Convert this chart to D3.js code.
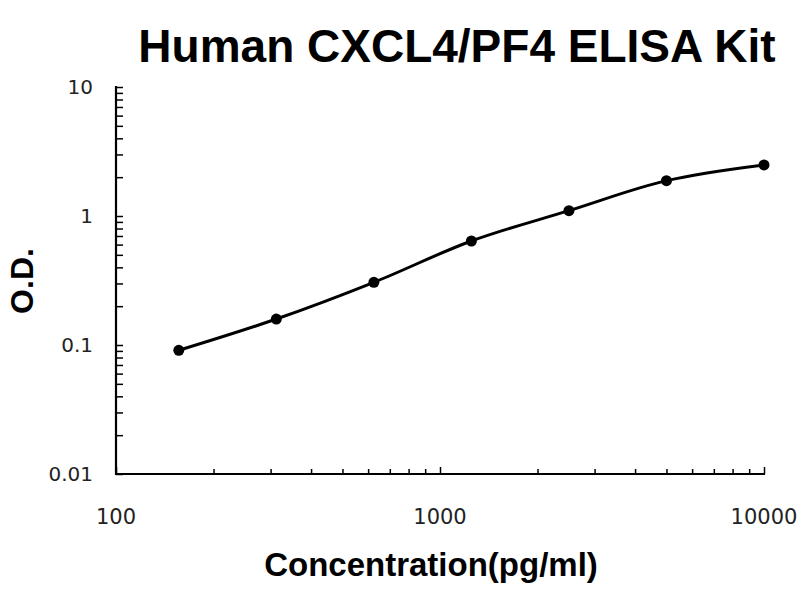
<!DOCTYPE html>
<html>
<head>
<meta charset="utf-8">
<script src="https://cdn.jsdelivr.net/npm/d3@7"></script>
<style>
  html, body { margin: 0; padding: 0; background: #fff; }
  svg { display: block; }
</style>
</head>
<body>
<svg id="chart" width="800" height="600"></svg>
<script>
// Data
const concentrations = [156.25, 312.5, 625, 1250, 2500, 5000, 10000];
const odValues = [0.091, 0.159, 0.306, 0.64, 1.10, 1.88, 2.49];
const xTickValues = [100, 1000, 10000];
const xTickLabels = ["100", "1000", "10000"];
const yTickValues = [0.01, 0.1, 1, 10];
const yTickLabels = ["0.01", "0.1", "1", "10"];
const titleText = "Human CXCL4/PF4 ELISA Kit";
const xLabelText = "Concentration(pg/ml)";
const yLabelText = "O.D.";

(function () {
const svg = d3.select("#chart");
svg.append("rect").attr("width", 800).attr("height", 600).attr("fill", "#fff");

const pLeft = 116, pRight = 764, pTop = 87, pBottom = 474;
const x = d3.scaleLog().domain([100, 10000]).range([pLeft, pRight]);
const y = d3.scaleLog().domain([0.01, 10]).range([pBottom, pTop]);

// minor tick values
const xMinor = [];
for (let d = 100; d < 10000; d *= 10) for (let k = 2; k <= 9; k++) xMinor.push(d * k);
const yMinor = [];
for (let d = 0.01; d < 10; d *= 10) for (let k = 2; k <= 9; k++) yMinor.push(+(d * k).toPrecision(3));

// X axis
const xAxisG = svg.append("g").attr("transform", `translate(0,${pBottom})`);
xAxisG.append("g").call(d3.axisTop(x).tickValues(xMinor).tickSize(5).tickFormat(""))
  .call(g => g.select(".domain").remove());
xAxisG.append("g").call(d3.axisTop(x).tickValues(xTickValues).tickSize(7).tickFormat(""))
  .call(g => g.select(".domain").remove());
xAxisG.selectAll(".tick line").attr("stroke", "#000").attr("stroke-width", 1.5);
xAxisG.append("line").attr("x1", pLeft - 1).attr("x2", pRight + 1).attr("y1", 0).attr("y2", 0)
  .attr("stroke", "#000").attr("stroke-width", 2.2);
svg.append("g").selectAll("text").data(xTickValues).join("text")
  .attr("x", d => x(d)).attr("y", 524)
  .attr("text-anchor", "middle")
  .attr("font-family", "DejaVu Sans, sans-serif").attr("font-size", 21).attr("fill", "#222")
  .text((d, i) => xTickLabels[i]);

// Y axis
const yAxisG = svg.append("g").attr("transform", `translate(${pLeft},0)`);
yAxisG.append("g").call(d3.axisRight(y).tickValues(yMinor.concat(yTickValues)).tickSize(7).tickFormat(""))
  .call(g => g.select(".domain").remove());
yAxisG.selectAll(".tick line").attr("stroke", "#000").attr("stroke-width", 1.5);
yAxisG.append("line").attr("x1", 0).attr("x2", 0).attr("y1", pTop - 1).attr("y2", pBottom + 1)
  .attr("stroke", "#000").attr("stroke-width", 2.2);
svg.append("g").selectAll("text").data(yTickValues).join("text")
  .attr("x", 93).attr("y", d => y(d) + 7)
  .attr("text-anchor", "end")
  .attr("font-family", "DejaVu Sans, sans-serif").attr("font-size", 20).attr("fill", "#222")
  .text((d, i) => yTickLabels[i]);

// Curve
const pts = concentrations.map((c, i) => [c, odValues[i]]);
const line = d3.line().x(d => x(d[0])).y(d => y(d[1])).curve(d3.curveCatmullRom.alpha(0.5));
svg.append("path").datum(pts).attr("d", line)
  .attr("fill", "none").attr("stroke", "#000").attr("stroke-width", 3);
svg.append("g").selectAll("circle").data(pts).join("circle")
  .attr("cx", d => x(d[0])).attr("cy", d => y(d[1])).attr("r", 5.5).attr("fill", "#000");

// Titles
svg.append("text").attr("x", 457).attr("y", 62).attr("text-anchor", "middle")
  .attr("font-family", "Liberation Sans, Arial, sans-serif").attr("font-weight", "bold")
  .attr("font-size", 46).attr("fill", "#000").text(titleText);
svg.append("text").attr("x", 431).attr("y", 576).attr("text-anchor", "middle")
  .attr("font-family", "Liberation Sans, Arial, sans-serif").attr("font-weight", "bold")
  .attr("font-size", 33).attr("fill", "#000").text(xLabelText);
svg.append("text").attr("transform", "translate(33,281) rotate(-90)").attr("text-anchor", "middle")
  .attr("font-family", "Liberation Sans, Arial, sans-serif").attr("font-weight", "bold")
  .attr("font-size", 32).attr("fill", "#000").text(yLabelText);
})();
</script>
</body>
</html>
